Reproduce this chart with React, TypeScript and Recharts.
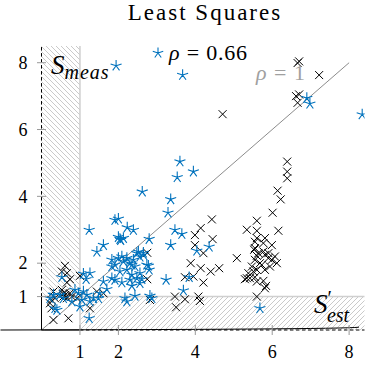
import React from 'react';
import { ScatterChart, Scatter, XAxis, YAxis, ReferenceArea, ReferenceLine, ReferenceDot } from 'recharts';

const xTicks = [1, 2, 4, 6, 8];
const yTicks = [1, 2, 4, 6, 8];

const blueX = [
  1.94, 3.67, 6.9, 6.98, 8.34, 3.6, 3.95, 3.53, 2.62, 3.36, 3.29,
  1.91, 2.0, 1.24, 2.23, 2.39, 2.0, 2.13, 2.04, 2.06, 2.8, 3.47, 3.65,
  1.61, 3.36, 4.36, 4.04, 1.44, 2.65,
  1.83, 1.91, 2.0, 2.09, 2.13, 2.22, 2.3, 2.39, 2.48, 2.52, 2.56, 2.65, 2.74, 2.43, 2.22, 2.04, 1.83, 2.56, 2.78, 2.8, 2.35,
  1.91, 2.09, 2.3, 2.48, 2.35, 2.56, 1.61, 1.7, 1.52, 1.48, 2.17, 2.22, 2.43, 2.82, 2.35, 1.83, 2.61, 3.24, 3.84, 3.69, 2.87, 5.68,
  1.09, 1.26, 1.16, 0.53, 0.31, 0.48, 0.79, 0.96, 1.05, 1.09, 1.18, 0.4, 1.0, 1.26, 1.35, 1.24, 0.22, 0.35, 0.57, 0.87,
];
const blueY = [
  7.91, 7.63, 6.94, 6.77, 6.45, 5.04, 4.74, 4.57, 4.14, 3.91, 3.51,
  3.29, 3.33, 2.99, 3.07, 2.99, 2.78, 2.75, 2.72, 2.69, 2.72, 2.99, 2.87,
  2.54, 2.54, 2.49, 2.37, 2.34, 2.31,
  2.1, 1.95, 2.15, 2.2, 2.05, 2.15, 2.0, 2.1, 2.3, 2.34, 2.19, 2.25, 1.95, 1.9, 1.8, 1.75, 1.9, 1.7, 1.92, 1.8, 1.95,
  1.5, 1.42, 1.5, 1.55, 1.32, 1.4, 1.45, 1.22, 1.1, 0.95, 0.95, 0.85, 1.02, 1.02, 1.65, 1.55, 1.52, 1.5, 1.58, 1.18, 0.95, 0.65,
  1.68, 1.7, 1.52, 1.58, 1.05, 1.05, 0.85, 1.1, 0.9, 1.15, 1.05, 0.6, 0.7, 0.85, 0.95, 0.35, 0.95, 0.65, 0.95, 1.2,
];

const blackX = [
  6.66, 6.7, 7.22, 6.62, 6.7, 6.66, 4.71,
  6.39, 6.39, 6.39, 6.14, 6.22, 6.01,
  4.43, 4.14, 3.99, 4.45, 3.99, 4.21, 3.88, 4.14, 4.4, 4.62, 5.08, 3.73, 3.95, 4.21, 3.73, 4.08, 4.12, 3.47, 3.5, 2.75, 2.75, 2.82, 5.34,
  5.6, 5.34, 5.6, 6.16, 5.6, 5.81, 5.55, 5.77, 5.99, 5.55, 5.53, 5.77, 5.9, 5.64, 5.81, 5.6, 5.9, 5.99, 6.07, 6.12, 5.55, 5.68, 5.73, 5.94,
  5.47, 5.6, 5.81, 5.51, 5.38, 5.29, 5.42, 5.55, 5.6, 5.77, 5.84, 5.81, 5.6,
  0.61, 0.53, 0.66, 0.74, 1.0, 0.31, 0.53, 0.61, 0.74, 0.26, 0.35, 0.57, 0.66, 0.79, 0.92, 0.22, 0.26, 0.31, 0.7, 1.26, 1.44, 1.61, 0.62, 0.55, 0.66,
];
const blackY = [
  7.99, 8.04, 7.63, 7.0, 7.05, 6.8, 6.46,
  5.04, 4.74, 4.54, 4.17, 3.91, 3.51,
  3.31, 3.05, 2.84, 2.72, 2.54, 2.3, 2.0, 1.85, 1.75, 1.85, 2.15, 1.58, 1.6, 1.42, 0.92, 1.0, 0.87, 1.0, 0.68, 2.31, 1.52, 0.9, 1.55,
  3.27, 3.0, 2.97, 2.97, 2.75, 2.75, 2.64, 2.6, 2.54, 2.45, 2.4, 2.35, 2.3, 2.3, 2.25, 2.22, 2.15, 2.1, 2.2, 2.0, 2.1, 2.0, 1.95, 1.9,
  1.9, 1.8, 1.8, 1.75, 1.7, 1.52, 1.55, 1.58, 1.45, 1.47, 1.32, 1.25, 1.0,
  1.92, 1.75, 1.7, 1.52, 1.62, 1.15, 1.2, 1.12, 1.1, 0.9, 0.95, 1.0, 0.95, 1.0, 0.95, 0.8, 0.65, 0.3, 0.35, 0.65, 1.15, 1.1, 1.05, 1.08, 1.42,
];

const blueData = blueX.map((x, i) => ({ x, y: blueY[i] }));
const blackData = blackX.map((x, i) => ({ x, y: blackY[i] }));

const BLUE = '#0072BD';

function starPath(cx: number, cy: number, r: number) {
  let d = '';
  for (let k = 0; k < 5; k++) {
    const a = (-90 + k * 72) * Math.PI / 180;
    d += `M${cx},${cy}L${cx + r * Math.cos(a)},${cy + r * Math.sin(a)}`;
  }
  return d;
}

const BlueStar = (props: any) => {
  const { cx, cy } = props;
  if (cx == null || cy == null) return <g />;
  return <path d={starPath(cx, cy, 5.8)} stroke={BLUE} strokeWidth={1.1} fill="none" />;
};

const BlackCross = (props: any) => {
  const { cx, cy } = props;
  if (cx == null || cy == null) return <g />;
  const h = 4;
  return (
    <path
      d={`M${cx - h},${cy - h}L${cx + h},${cy + h}M${cx - h},${cy + h}L${cx + h},${cy - h}`}
      stroke="#000"
      strokeWidth={1}
      fill="none"
    />
  );
};

const SERIF = '"Liberation Serif", "DejaVu Serif", serif';

const XTick = (props: any) => {
  const { x, y, payload } = props;
  return (
    <g>
      <line x1={x} x2={x} y1={y - 5} y2={y + 5} stroke="#999" strokeWidth={1} />
      <text x={x} y={y + 28} textAnchor="middle" fontFamily={SERIF} fontSize={18} fill="#000">
        {payload.value}
      </text>
    </g>
  );
};

const YTick = (props: any) => {
  const { x, y, payload } = props;
  return (
    <g>
      <line x1={x - 4.5} x2={x + 4.5} y1={y} y2={y} stroke="#999" strokeWidth={1} />
      <text x={x - 14} y={y} dy="0.35em" textAnchor="end" fontFamily={SERIF} fontSize={18} fill="#000">
        {payload.value}
      </text>
    </g>
  );
};

const ArrowUp = (props: any) => {
  const { cx, cy } = props;
  return (
    <path
      d={`M${cx - 3},${cy + 5.5}Q${cx - 0.8},${cy + 2}${cx},${cy}Q${cx + 0.8},${cy + 2}${cx + 3},${cy + 5.5}M${cx},${cy}L${cx},${cy + 4}`}
      stroke="#000"
      strokeWidth={1}
      fill="none"
    />
  );
};

const ArrowRight = (props: any) => {
  const { cx, cy } = props;
  return (
    <path
      d={`M${cx - 5.5},${cy - 3}Q${cx - 2},${cy - 0.8}${cx},${cy}Q${cx - 2},${cy + 0.8}${cx - 5.5},${cy + 3}M${cx},${cy}L${cx - 4},${cy}`}
      stroke="#000"
      strokeWidth={1}
      fill="none"
    />
  );
};

export default function App() {
  return (
    <div style={{ position: 'absolute', left: 0, top: 0, width: 365, height: 369, background: '#fff' }}>
      <svg width={0} height={0} style={{ position: 'absolute' }}>
        <defs>
          <pattern id="hatchBack" patternUnits="userSpaceOnUse" width={5} height={5}>
            <path d="M0,0L5,5M-1,4L1,6M4,-1L6,1" stroke="#bdbdbd" strokeWidth={0.8} />
          </pattern>
          <pattern id="hatchFwd" patternUnits="userSpaceOnUse" width={5} height={5}>
            <path d="M0,5L5,0M-1,1L1,-1M4,6L6,4" stroke="#bdbdbd" strokeWidth={0.8} />
          </pattern>
        </defs>
      </svg>
      <ScatterChart width={365} height={369} margin={{ top: 46, right: 0.5, left: 0, bottom: 0 }}>
        <XAxis
          type="number"
          dataKey="x"
          domain={[0, 8.4]}
          ticks={xTicks}
          height={39}
          axisLine={false}
          tickLine={false}
          tickSize={0}
          tickMargin={0}
          tick={<XTick />}
          interval={0}
          allowDataOverflow
        />
        <YAxis
          type="number"
          dataKey="y"
          domain={[0, 8.5]}
          ticks={yTicks}
          width={41.5}
          axisLine={false}
          tickLine={false}
          tickSize={0}
          tickMargin={0}
          tick={<YTick />}
          interval={0}
          allowDataOverflow
        />
        <ReferenceArea x1={0} x2={1} y1={1} y2={8.5} fill="url(#hatchBack)" fillOpacity={1} stroke="none" />
        <ReferenceArea x1={1} x2={8.4} y1={0} y2={1} fill="url(#hatchFwd)" fillOpacity={1} stroke="none" />
        <ReferenceLine x={1} stroke="#cfcfcf" strokeWidth={1.5} />
        <ReferenceLine y={1} stroke="#cfcfcf" strokeWidth={1.5} />
        <ReferenceLine segment={[{ x: 0, y: 0 }, { x: 8, y: 8 }]} stroke="#8c8c8c" strokeWidth={1} />
        <ReferenceLine segment={[{ x: 0, y: 0 }, { x: 0, y: 1 }]} stroke="#000" strokeWidth={1} />
        <ReferenceLine segment={[{ x: 0, y: 1 }, { x: 0, y: 8.5 }]} stroke="#000" strokeWidth={1} strokeDasharray="3.5 2.5" />
        <ReferenceLine segment={[{ x: 0, y: 0 }, { x: 1, y: 0 }]} stroke="#000" strokeWidth={1} />
        <ReferenceLine segment={[{ x: 1, y: 0 }, { x: 8.4, y: 0 }]} stroke="#000" strokeWidth={1} strokeDasharray="3.5 2.5" />
        <ReferenceDot x={0} y={8.5} r={0} shape={<ArrowUp />} />
        <ReferenceDot x={8.4} y={0} r={0} shape={<ArrowRight />} />
        <Scatter data={blackData} shape={<BlackCross />} isAnimationActive={false} />
        <Scatter data={blueData} shape={<BlueStar />} isAnimationActive={false} />
      </ScatterChart>
      <svg width={365} height={369} style={{ position: 'absolute', left: 0, top: 0, pointerEvents: 'none' }}>
        <text x={205} y={20} textAnchor="middle" fontFamily={SERIF} fontSize={23} letterSpacing={2} fill="#000">
          Least Squares
        </text>
        <path d={starPath(158, 53, 5.5)} stroke={BLUE} strokeWidth={1.1} fill="none" />
        <text x={169} y={60} fontFamily={SERIF} fontSize={22} letterSpacing={0.8} fill="#000">
          <tspan fontFamily={SERIF} fontStyle="italic">ρ</tspan>
          <tspan fontFamily={SERIF}> = 0.66</tspan>
        </text>
        <text x={256} y={80} fontFamily={SERIF} fontSize={22} letterSpacing={1} fill="#a0a0a0">
          <tspan fontFamily={SERIF} fontStyle="italic">ρ</tspan>
          <tspan fontFamily={SERIF}> = 1</tspan>
        </text>
        <text x={51} y={74} fontFamily={SERIF} fill="#000">
          <tspan fontSize={27} fontStyle="italic">S</tspan>
          <tspan fontSize={20} fontStyle="italic" dy={5} letterSpacing={1}>meas</tspan>
        </text>
        <text x={314} y={313} fontFamily={SERIF} fill="#000">
          <tspan fontSize={27} fontStyle="italic">S</tspan>
          <tspan fontSize={20} dy={-8}>′</tspan>
          <tspan fontSize={20} fontStyle="italic" dx={-5} dy={17}>est</tspan>
        </text>
      </svg>
    </div>
  );
}
